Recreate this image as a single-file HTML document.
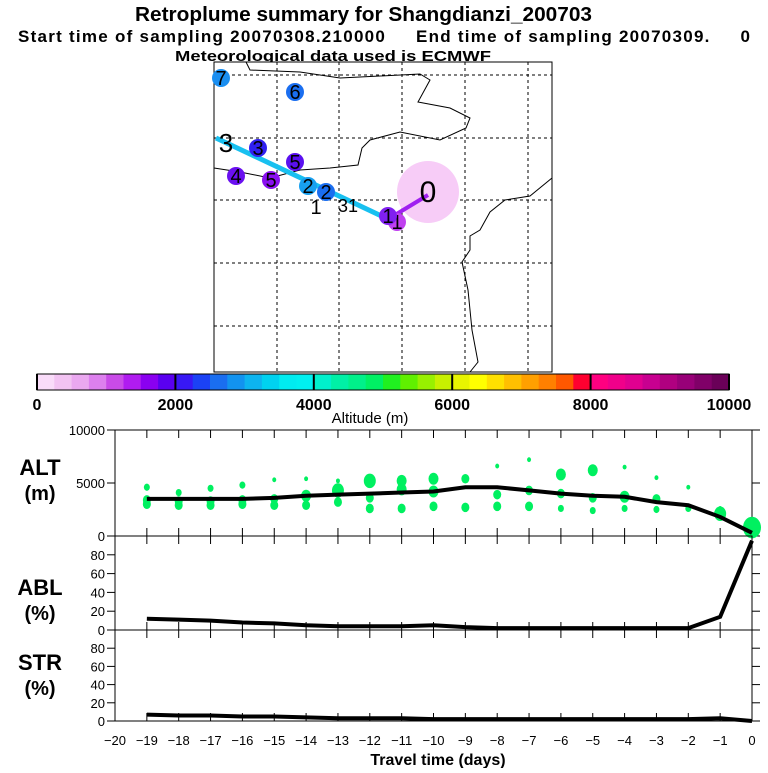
<!DOCTYPE html>
<html><head><meta charset="utf-8"><style>
body{margin:0;background:#fff;width:768px;height:768px;overflow:hidden;font-family:"Liberation Sans",sans-serif}
svg text{font-family:"Liberation Sans",sans-serif;white-space:pre}
</style></head><body>
<svg id="c" width="768" height="768" xmlns="http://www.w3.org/2000/svg">
<text x="135" y="21" font-size="20" font-weight="bold" textLength="457" lengthAdjust="spacingAndGlyphs">Retroplume summary for Shangdianzi_200703</text>
<text x="18" y="42" font-size="17" font-weight="bold" textLength="732" lengthAdjust="spacing">Start time of sampling 20070308.210000     End time of sampling 20070309.     0</text>
<text x="175" y="61" font-size="15" font-weight="bold" textLength="316" lengthAdjust="spacingAndGlyphs">Meteorological data used is ECMWF</text>
<g id="map"></g>
<g id="cbar"></g>
<g id="alt"></g>
<g id="abl"></g>
<g id="str"></g>
<g id="xax"></g>
</svg>
<script>
const days=[-19,-18,-17,-16,-15,-14,-13,-12,-11,-10,-9,-8,-7,-6,-5,-4,-3,-2,-1,0];
const altMean=[3500,3500,3500,3500,3600,3800,3900,4000,4100,4200,4600,4600,4300,4000,3800,3700,3200,2900,1800,300];
const ablPct=[12,11,10,8,7,5,4,4,4,5,3,2,2,2,2,2,2,2,14,95];
const strPct=[7,6,6,5,5,4,3,3,3,2,2,2,2,2,2,2,2,2,3,0];
const dotDays=[-19,-19,-19,-18,-18,-18,-17,-17,-17,-16,-16,-16,-15,-15,-15,-14,-14,-14,-13,-13,-13,-12,-12,-12,-11,-11,-11,-10,-10,-10,-9,-9,-8,-8,-8,-7,-7,-7,-6,-6,-6,-5,-5,-5,-4,-4,-4,-3,-3,-3,-2,-2,-1,-1,0];
const dotAlts=[4600,3400,3000,4100,3300,2900,4500,3300,2900,4800,3400,3000,5300,3500,2900,5400,3800,2900,5200,4300,3200,5200,3600,2600,5200,4400,2600,5400,4200,2800,5400,2700,6600,3900,2800,7200,4300,2800,5800,4000,2600,6200,3600,2400,6500,3700,2600,5500,3500,2500,4600,2600,2600,2100,800];
const dotSize=[3,4,4,3,4,4,3,4,4,3,4,4,2,4,4,2,5,4,2,6,4,6,4,4,5,5,4,5,5,4,4,4,2,4,4,2,4,4,5,4,3,5,4,3,2,5,3,2,4,3,2,3,2,6,9];
const cbTicks=[0,2000,4000,6000,8000,10000];
const cbColors=["#f9dcf9","#f2c3f2","#eaa8f0","#dd80ee","#c94be8","#b01cf0","#8a00f0","#5a00f0","#3818f5","#1b42f5","#1a6ef0","#1293ef","#0db4ef","#00d2f0","#00ecf0","#00f0f0","#00f0cc","#00f0a6","#00f08a","#00f064","#20f020","#60f000","#98f000","#c8f000","#e8f400","#ffff00","#ffe000","#ffc000","#ffa000","#ff8000","#ff5800","#ff0030","#ff0080","#f0008a","#e00090","#c80090","#b00080","#980078","#800068","#6a0058"];
const NS="http://www.w3.org/2000/svg";
function el(p,t,a){const e=document.createElementNS(NS,t);for(const k in a)e.setAttribute(k,a[k]);p.appendChild(e);return e;}
const X0=115,X1=752;
const xs=d=>X0+(d+20)*(X1-X0)/20;
function panel(g,top,bot,vmax,vals,ticks,lbl1,lbl2,ly){
  const ys=v=>bot-(v/vmax)*(bot-top);
  const r=el(g,'rect',{x:X0,y:top,width:X1-X0,height:bot-top,fill:'none',stroke:'#000','stroke-width':1});
  
  for(let d=-19;d<=0;d++){el(g,'line',{x1:xs(d),x2:xs(d),y1:top,y2:top+8,stroke:'#000'});el(g,'line',{x1:xs(d),x2:xs(d),y1:bot,y2:bot-8,stroke:'#000'});}
  ticks.forEach(t=>{const y=ys(t);el(g,'line',{x1:X0-8,x2:X0,y1:y,y2:y,stroke:'#000'});el(g,'line',{x1:X1,x2:X1+8,y1:y,y2:y,stroke:'#000'});
    const tx=el(g,'text',{x:X0-10,y:y+5,'font-size':13,'text-anchor':'end','font-family':'Liberation Serif'});tx.textContent=t;
    });
  const a=el(g,'text',{x:40,y:ly,'font-size':22,'font-weight':'bold','text-anchor':'middle'});a.textContent=lbl1;
  
  const b=el(g,'text',{x:40,y:ly+25,'font-size':20,'font-weight':'bold','text-anchor':'middle'});b.textContent=lbl2;
  
  return ys;
}
const ga=document.getElementById('alt');
const ysA=panel(ga,430,536,10000,altMean,[0,5000,10000],'ALT','(m)',475);
dotDays.forEach((d,i)=>{const c=el(ga,'ellipse',{cx:xs(d),cy:ysA(dotAlts[i]),rx:dotSize[i],ry:dotSize[i]*1.2,fill:'#00f060'});
  });
const la=el(ga,'polyline',{points:days.map((d,i)=>xs(d)+','+ysA(altMean[i])).join(' '),fill:'none',stroke:'#000','stroke-width':4});

const gb=document.getElementById('abl');
const ysB=panel(gb,536,630,100,ablPct,[0,20,40,60,80],'ABL','(%)',595);
const lb=el(gb,'polyline',{points:days.map((d,i)=>xs(d)+','+ysB(ablPct[i])).join(' '),fill:'none',stroke:'#000','stroke-width':4});

const gs=document.getElementById('str');
const ysS=panel(gs,630,721,100,strPct,[0,20,40,60,80],'STR','(%)',670);
const ls=el(gs,'polyline',{points:days.map((d,i)=>xs(d)+','+ysS(strPct[i])).join(' '),fill:'none',stroke:'#000','stroke-width':4});

const gx=document.getElementById('xax');
for(let d=-20;d<=0;d++){const t=el(gx,'text',{x:xs(d),y:745,'font-size':13,'text-anchor':'middle','font-family':'Liberation Serif'});t.textContent=d===0?'0':'\u2212'+(-d);
  }
const xt=el(gx,'text',{x:438,y:765,'font-size':16,'font-weight':'bold','text-anchor':'middle'});xt.textContent='Travel time (days)';

const gc=document.getElementById('cbar');
const C0=37,C1=729,cw=(C1-C0)/cbColors.length;
cbColors.forEach((c,i)=>{const r=el(gc,'rect',{x:C0+i*cw,y:374,width:cw+0.5,height:16,fill:c});});
el(gc,'rect',{x:C0,y:374,width:C1-C0,height:16,fill:'none',stroke:'#000'});
cbTicks.forEach(t=>{const x=C0+t/10000*(C1-C0);el(gc,'line',{x1:x,x2:x,y1:374,y2:390,stroke:'#000','stroke-width':2});
  const tx=el(gc,'text',{x:x,y:410,'font-size':16,'font-weight':'bold','text-anchor':'middle'});tx.textContent=t;
  });
const ct=el(gc,'text',{x:370,y:423,'font-size':15,'text-anchor':'middle','font-family':'Liberation Serif'});ct.textContent='Altitude (m)';

const gm=document.getElementById('map');
const mf=el(gm,'rect',{x:214,y:62,width:338,height:310,fill:'#fff',stroke:'#000'});
[277,339,402,465,528].forEach(x=>el(gm,'line',{x1:x,x2:x,y1:62,y2:372,stroke:'#000','stroke-dasharray':'3,3'}));
[75,138,200,263,326].forEach(y=>el(gm,'line',{x1:214,x2:552,y1:y,y2:y,stroke:'#000','stroke-dasharray':'3,3'}));
const coast=[[246,62],[250,70],[300,72],[340,78],[380,76],[420,74],[430,80],[418,102],[450,108],[470,118],[466,128],[440,140],[400,132],[370,140],[362,148],[358,165],[330,168],[300,170],[270,178],[240,172],[214,168]];
const cl=el(gm,'polyline',{points:coast.map(p=>p.join(',')).join(' '),fill:'none',stroke:'#000'});
const coast2=[[552,178],[530,196],[505,200],[490,212],[480,230],[470,236],[470,250],[462,262],[468,290],[472,330],[478,362],[470,372]];
el(gm,'polyline',{points:coast2.map(p=>p.join(',')).join(' '),fill:'none',stroke:'#000'});
const pl=el(gm,'circle',{cx:428,cy:192,r:31,fill:'#f7ccf7'});
el(gm,'line',{x1:216,x2:390,y1:138,y2:220,stroke:'#18c0f0','stroke-width':5});
el(gm,'line',{x1:390,x2:428,y1:218,y2:195,stroke:'#a020f0','stroke-width':4});
const pts=[[221,78,'#1a8ef0','7'],[295,92,'#1a6ef0','6'],[258,148,'#3020f0','3'],[295,162,'#5a10f0','5'],[236,176,'#6a10f0','4'],[271,180,'#8a10f0','5'],[308,186,'#18a0f0','2'],[326,192,'#1a6ef0','2'],[397,222,'#c040f0','1'],[388,216,'#8020f0','1']];
pts.forEach(p=>{const c=el(gm,'circle',{cx:p[0],cy:p[1],r:9,fill:p[2]});
  const t=el(gm,'text',{x:p[0],y:p[1]+7,'font-size':20,'text-anchor':'middle','font-family':'Liberation Serif'});t.textContent=p[3];});
[[226,152,'3',26],[316,214,'1',20],[348,212,'31',18],[428,202,'0',30]].forEach(p=>{const t=el(gm,'text',{x:p[0],y:p[1],'font-size':p[3],'text-anchor':'middle','font-family':'Liberation Serif'});t.textContent=p[2];
  });
</script>
</body></html>
